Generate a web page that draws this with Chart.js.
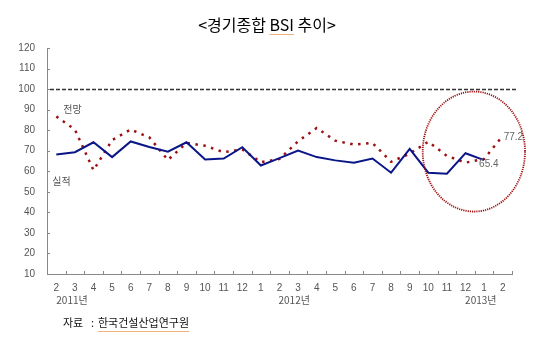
<!DOCTYPE html>
<html>
<head>
<meta charset="utf-8">
<script src="https://cdn.jsdelivr.net/npm/chart.js@4.4.0/dist/chart.umd.min.js"></script>
<style>
  body { margin: 0; background: #fff; }
  #wrap { width: 550px; height: 342px; }
</style>
</head>
<body>
<div id="wrap"><canvas id="bsi-chart" width="550" height="342"></canvas></div>
<script>
// months from 2011.2 to 2013.2
var months = ['2','3','4','5','6','7','8','9','10','11','12','1','2','3','4','5','6','7','8','9','10','11','12','1','2'];
// 실적 (actual) - stops at 2013.1
var actual = [68.2, 69.3, 74.1, 66.9, 74.5, 71.8, 69.5, 74.1, 65.7, 66.2, 71.7, 62.8, 66.4, 70.1, 66.9, 65.3, 64.1, 66.2, 59.3, 70.9, 59.3, 58.8, 68.8, 65.4];
// 전망 (outlook)
var outlook = [86.7, 80.3, 60.5, 75.2, 80.3, 76.5, 65.5, 73.8, 72.4, 69.3, 70.6, 64.4, 66.0, 74.6, 81.1, 74.9, 73.0, 73.8, 64.6, 68.6, 74.4, 67.5, 64.2, 66.0, 77.2];
var yearLabels = ['2011년', '2012년', '2013년'];
var yearIndex = [0, 12, 23];
var refLine = 100;

var labelFont = "'Liberation Sans Narrow', 'Liberation Sans', sans-serif";
var krFont = "'Noto Sans CJK KR', sans-serif";

// everything drawn around the plot: title, inward ticks, notes
var extras = {
    id: 'extras',
    beforeDatasetsDraw: function(chart) {
        var ctx = chart.ctx, area = chart.chartArea, y = chart.scales.y;
        var py = Math.round(y.getPixelForValue(refLine)) + 0.5;
        ctx.save();
        ctx.strokeStyle = '#333';
        ctx.lineWidth = 1.5;
        ctx.setLineDash([4, 2]);
        ctx.beginPath();
        ctx.moveTo(area.left + 3, py);
        ctx.lineTo(area.right + 6, py);
        ctx.stroke();
        ctx.restore();
    },
    afterDraw: function(chart) {
        var ctx = chart.ctx, area = chart.chartArea;
        var x = chart.scales.x, y = chart.scales.y;
        var half = (x.getPixelForValue(1) - x.getPixelForValue(0)) / 2;
        ctx.save();

        // small inward tick marks
        ctx.strokeStyle = '#888';
        ctx.lineWidth = 1;
        ctx.beginPath();
        y.ticks.forEach(function(t) {
            var py = Math.round(y.getPixelForValue(t.value)) + 0.5;
            ctx.moveTo(area.left, py);
            ctx.lineTo(area.left + 3, py);
        });
        for (var i = 0; i <= months.length; i++) {
            var px = Math.round(x.getPixelForValue(i) - half) + 0.5;
            ctx.moveTo(px, area.bottom);
            ctx.lineTo(px, area.bottom - 3);
        }
        ctx.stroke();

        // title
        var title = '<경기종합 BSI 추이>';
        ctx.font = '16px ' + krFont;
        ctx.fillStyle = '#000';
        ctx.textBaseline = 'middle';
        ctx.textAlign = 'left';
        var tw = ctx.measureText(title).width;
        var tx = 267 - tw / 2;
        ctx.fillText(title, tx, 25);
        var pre = ctx.measureText('<경기종합 ').width;
        var bsi = ctx.measureText('BSI').width;
        ctx.strokeStyle = '#f3b27a';
        ctx.beginPath();
        ctx.moveTo(tx + pre, 34.5);
        ctx.lineTo(tx + pre + bsi, 34.5);
        ctx.stroke();

        // year labels under the months
        ctx.font = '10px ' + krFont;
        ctx.fillStyle = '#555';
        var yearShift = [0, -1, -19];
        yearLabels.forEach(function(lbl, k) {
            ctx.fillText(lbl, x.getPixelForValue(yearIndex[k]) + yearShift[k], area.bottom + 26);
        });

        // series names
        ctx.fillText('전망', x.getPixelForValue(0) + 7, y.getPixelForValue(90.4));
        ctx.fillText('실적', x.getPixelForValue(0) - 4, y.getPixelForValue(55.2));

        // last values
        ctx.font = '10px ' + labelFont;
        ctx.fillStyle = '#666';
        var lastO = outlook.length - 1, lastA = actual.length - 1;
        ctx.fillText(outlook[lastO].toFixed(1), x.getPixelForValue(lastO) + 1, y.getPixelForValue(outlook[lastO]) + 1);
        ctx.fillText(actual[lastA].toFixed(1), x.getPixelForValue(lastA) - 5, y.getPixelForValue(actual[lastA]) + 4);

        // dotted ellipse around the recent months
        var cx = x.getPixelForValue(22.45);
        var cy = y.getPixelForValue(69.6);
        var rx = x.getPixelForValue(25.2) - cx;
        var ry = y.getPixelForValue(69.6 - 29.2) - cy;
        ctx.strokeStyle = '#a01010';
        ctx.lineWidth = 1.8;
        ctx.setLineDash([1.2, 1]);
        ctx.beginPath();
        ctx.ellipse(cx, cy, rx, ry, 0, 0, Math.PI * 2);
        ctx.stroke();
        ctx.setLineDash([]);

        // source
        ctx.font = '11px ' + krFont;
        ctx.fillStyle = '#111';
        ctx.fillText('자료', 63, 323);
        ctx.fillText(':', 91, 323);
        ctx.fillText('한국건설산업연구원', 98, 323);
        ctx.strokeStyle = '#f3b27a';
        ctx.lineWidth = 1;
        ctx.beginPath();
        ctx.moveTo(98, 331.5);
        ctx.lineTo(98 + ctx.measureText('한국건설산업연구원').width, 331.5);
        ctx.stroke();

        ctx.restore();
    }
};

function drawChart() {
    var ctx = document.getElementById('bsi-chart');

    new Chart(ctx, {
        type: 'line',
        data: {
            labels: months,
            datasets: [{
                label: '실적',
                data: actual,
                borderColor: '#0a1688',
                borderWidth: 2,
                pointRadius: 0,
                tension: 0,
                fill: false
            }, {
                label: '전망',
                data: outlook,
                borderColor: '#9c1010',
                borderWidth: 2.5,
                borderDash: [2.5, 5.5],
                pointRadius: 0,
                tension: 0,
                fill: false
            }]
        },
        options: {
            responsive: false,
            animation: false,
            layout: { padding: { top: 48, right: 38, left: 0, bottom: 0 } },
            plugins: {
                legend: { display: false },
                tooltip: { enabled: false }
            },
            scales: {
                x: {
                    offset: true,
                    grid: { display: false, drawTicks: false },
                    border: { display: true, color: '#888', width: 1 },
                    ticks: {
                        color: '#555',
                        font: { family: labelFont, size: 10 },
                        padding: 8,
                        maxRotation: 0,
                        autoSkip: false
                    },
                    afterFit: function(scale) { scale.height = 68; }
                },
                y: {
                    min: 10,
                    max: 120,
                    grid: { display: false, drawTicks: false },
                    border: { display: true, color: '#888', width: 1 },
                    ticks: {
                        stepSize: 10,
                        color: '#555',
                        font: { family: labelFont, size: 10 },
                        padding: 12
                    },
                    afterFit: function(scale) { scale.width = 47; }
                }
            }
        },
        plugins: [extras]
    });
}

document.addEventListener('DOMContentLoaded', function() {
    drawChart();
});
</script>
</body>
</html>
